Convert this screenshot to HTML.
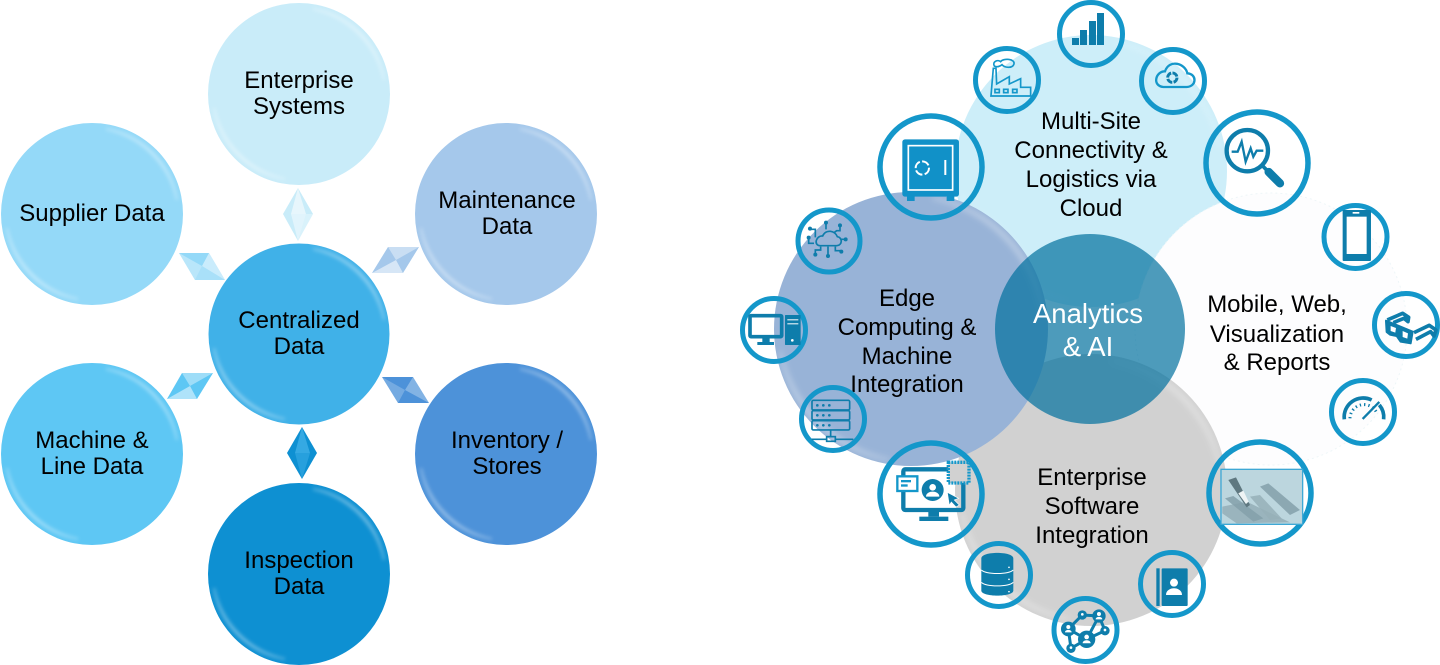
<!DOCTYPE html>
<html><head><meta charset="utf-8"><title>Data diagram</title>
<style>
html,body{margin:0;padding:0;background:#fff;width:1440px;height:665px;overflow:hidden}
svg{display:block}
text{font-family:"Liberation Sans",sans-serif;text-anchor:middle;fill:#000;font-size:24px}
.r{fill:none;stroke:#1497ca;stroke-width:5}
.R{fill:none;stroke:#1497ca;stroke-width:5.5}
.i{fill:#0e7dab}
</style></head><body>
<svg width="1440" height="665" viewBox="0 0 1440 665" xmlns="http://www.w3.org/2000/svg">
<defs>
<filter id="b" x="-30%" y="-30%" width="160%" height="160%"><feGaussianBlur stdDeviation="1.9"/></filter>
<g id="bv" filter="url(#b)">
<path d="M14 -85 A86 86 0 0 1 85 -14 A92 92 0 0 0 14 -85Z" fill="#fff" fill-opacity=".4" stroke="#fff" stroke-opacity=".2" stroke-width="3"/>
<path d="M-14 85 A86 86 0 0 1 -85 14 A92 92 0 0 0 -14 85Z" fill="#fff" fill-opacity=".4" stroke="#fff" stroke-opacity=".2" stroke-width="3"/>
</g>
</defs>

<!-- LEFT -->
<circle cx="299" cy="94" r="91" fill="#c9ecf9"/><use href="#bv" transform="translate(299,94)"/>
<circle cx="92" cy="214" r="91" fill="#94d9f8"/><use href="#bv" transform="translate(92,214)"/>
<circle cx="506" cy="214" r="91" fill="#a5c8eb"/><use href="#bv" transform="translate(506,214)"/>
<circle cx="299" cy="334" r="90.5" fill="#40b1e8"/><use href="#bv" transform="translate(299,334)"/>
<circle cx="92" cy="454" r="91" fill="#5ec7f4"/><use href="#bv" transform="translate(92,454)"/>
<circle cx="506" cy="454" r="91" fill="#4d92d9"/><use href="#bv" transform="translate(506,454)"/>
<circle cx="299" cy="574" r="91" fill="#0e90d2"/><use href="#bv" transform="translate(299,574)"/>

<!-- diamonds -->
<g>
<polygon points="298,188 313,214 298,241 283,214" fill="#c9ecf9"/>
<polygon points="298,188 306,214 291,214" fill="#fff" fill-opacity=".55"/>
<polygon points="298,241 306,214 313,214" fill="#fff" fill-opacity=".3"/>
<polygon points="298,241 291,214 306,214" fill="#fff" fill-opacity=".45"/>

<polygon points="302,427 317,453 302,479 287,453" fill="#0e90d2"/>
<polygon points="302,427 310,453 295,453" fill="#46b3ea" fill-opacity=".7"/>
<polygon points="302,479 295,453 310,453" fill="#46b3ea" fill-opacity=".45"/>

<polygon points="179,253 209,253 225,280 195,280" fill="#94d9f8"/>
<polygon points="179,253 202,266 195,280" fill="#fff" fill-opacity=".35"/>
<polygon points="209,253 225,280 202,266" fill="#fff" fill-opacity=".5"/>
<polygon points="195,280 225,280 202,266" fill="#fff" fill-opacity=".2"/>

<polygon points="388,247 419,247 403,273 372,273" fill="#a5c8eb"/>
<polygon points="388,247 419,247 396,260" fill="#fff" fill-opacity=".4"/>
<polygon points="372,273 403,273 396,260" fill="#fff" fill-opacity=".55"/>

<polygon points="182,373 213,373 197,399 167,399" fill="#5ec7f4"/>
<polygon points="182,373 213,373 190,386" fill="#fff" fill-opacity=".4"/>
<polygon points="167,399 197,399 190,386" fill="#fff" fill-opacity=".5"/>

<polygon points="382,377 413,377 429,403 398,403" fill="#4d92d9"/>
<polygon points="382,377 405,390 398,403" fill="#fff" fill-opacity=".22"/>
<polygon points="413,377 429,403 405,390" fill="#fff" fill-opacity=".3"/>
</g>

<text x="299" y="88">Enterprise</text><text x="299" y="114">Systems</text>
<text x="92" y="221">Supplier Data</text>
<text x="507" y="208">Maintenance</text><text x="507" y="234">Data</text>
<text x="299" y="328">Centralized</text><text x="299" y="354">Data</text>
<text x="92" y="448">Machine &amp;</text><text x="92" y="474">Line Data</text>
<text x="507" y="448">Inventory /</text><text x="507" y="474">Stores</text>
<text x="299" y="568">Inspection</text><text x="299" y="594">Data</text>

<!-- RIGHT circles -->
<circle cx="1091" cy="171" r="136" fill="#cdeef9"/>
<use href="#bv" transform="translate(1091,171) scale(1.52)" opacity=".5"/>
<circle cx="1271" cy="329" r="136" fill="#fdfdfe" stroke="#eef6f8" stroke-width="1" stroke-dasharray="2 3"/>
<circle cx="1091" cy="490" r="136" fill="#d1d1d1"/>
<use href="#bv" transform="translate(1091,490) scale(1.52)" opacity=".9"/>
<circle cx="911" cy="329" r="137" fill="#98b3d7"/>
<use href="#bv" transform="translate(911,329) scale(1.54)" opacity=".9"/>
<circle cx="1090" cy="329" r="95" fill="#01709e" fill-opacity=".7"/>

<text x="1091" y="129">Multi-Site</text><text x="1091" y="158">Connectivity &amp;</text><text x="1091" y="187">Logistics via</text><text x="1091" y="216">Cloud</text>
<text x="907" y="306">Edge</text><text x="907" y="335">Computing &amp;</text><text x="907" y="364">Machine</text><text x="907" y="392">Integration</text>
<text x="1277" y="312">Mobile, Web,</text><text x="1277" y="342">Visualization</text><text x="1277" y="370">&amp; Reports</text>
<text x="1092" y="485">Enterprise</text><text x="1092" y="514">Software</text><text x="1092" y="543">Integration</text>
<text x="1088" y="323" style="font-size:27.5px;fill:#fff">Analytics</text><text x="1088" y="356" style="font-size:27.5px;fill:#fff">&amp; AI</text>

<!-- rings -->
<circle class="r" cx="1091" cy="34" r="31.5"/>
<circle class="r" cx="1007" cy="80" r="31.5"/>
<circle class="r" cx="1173" cy="81" r="31.5"/>
<circle class="R" cx="931" cy="167" r="51"/>
<circle class="R" cx="1257" cy="163" r="51"/>
<circle class="r" cx="1355.5" cy="237" r="31.5"/>
<circle class="r" cx="1406" cy="325" r="31.5"/>
<circle class="r" cx="1363" cy="412" r="31.5"/>
<circle class="R" cx="1260" cy="493" r="51"/>
<circle class="r" cx="1172" cy="584" r="31.5"/>
<circle class="r" cx="1085.5" cy="630" r="31.5"/>
<circle class="r" cx="999" cy="575" r="31.5"/>
<circle class="R" cx="931" cy="494" r="51"/>
<circle class="r" cx="833" cy="419" r="31.5"/>
<circle class="r" cx="774" cy="330" r="31.5"/>
<circle class="r" cx="829" cy="241" r="31"/>

<!-- bars -->
<g class="i"><rect x="1072" y="38" width="7" height="7"/><rect x="1080" y="30" width="7" height="15"/><rect x="1089" y="21" width="7" height="24"/><rect x="1097" y="13" width="7" height="32"/></g>

<!-- factory -->
<g transform="translate(730,0) scale(.3333)" fill="none" stroke="#1497ca" stroke-width="5">
<path d="M783 288 L790 205 L798 205 L800 252 L838 230 V252 L872 236 V262 H902 V288 Z"/>
<rect x="795" y="268" width="13" height="10"/><rect x="821" y="268" width="13" height="10"/><rect x="848" y="268" width="13" height="10"/>
<path d="M793 198 C786 184 804 178 812 185 C820 174 856 176 852 192 C848 206 824 204 816 194 C808 200 800 202 793 198Z"/>
</g>

<!-- cloud sync -->
<g transform="translate(1080,0) scale(.3333)" fill="none" stroke="#1497ca" stroke-width="7">
<path d="M250 261 H320 C350 260 352 222 322 220 C316 190 268 176 255 214 C226 214 216 258 250 261Z"/>
<circle cx="277" cy="233" r="14" stroke="#0e7dab" stroke-width="9" stroke-dasharray="18 4"/>
</g>

<!-- safe -->
<g transform="translate(730,0) scale(.3333)">
<rect x="517" y="418" width="170" height="172" rx="8" fill="#1191c8"/>
<rect x="531" y="588" width="23" height="15" fill="#1191c8"/><rect x="650" y="588" width="23" height="15" fill="#1191c8"/>
<rect x="535" y="437" width="133" height="133" fill="none" stroke="#fff" stroke-width="5"/>
<circle cx="577" cy="504" r="20" fill="none" stroke="#fff" stroke-width="6" stroke-dasharray="24 7"/>
<rect x="643" y="480" width="6" height="45" fill="#fff"/>
</g>

<!-- magnifier -->
<g transform="translate(1080,0) scale(.3333)" fill="none" stroke="#0e7dab">
<circle cx="502" cy="452" r="62" stroke-width="13"/>
<line x1="548" y1="498" x2="565" y2="515" stroke-width="11"/>
<line x1="566" y1="516" x2="600" y2="550" stroke-width="25" stroke-linecap="round"/>
<polyline points="455,455 473,455 485,425 497,485 512,445 520,470 530,452 550,452" stroke-width="7"/>
</g>

<!-- cloud network -->
<g transform="translate(730,200) scale(.3333)" fill="none" stroke="#0e7dab" stroke-width="5">
<path d="M270 137 H320 C338 136 338 112 322 110 C316 92 288 86 278 108 C258 106 250 136 270 137Z"/>
<path d="M288 88 V70 M256 112 V88 H240 M312 98 L320 92 H330 V78 M334 118 H346 M236 115 V130 H252 M294 140 V165 M272 140 V150 H256 V162 M316 140 V152 H334"/>
<g fill="#0e7dab" stroke="none"><circle cx="288" cy="68" r="6"/><circle cx="240" cy="86" r="6"/><circle cx="330" cy="76" r="6"/><circle cx="347" cy="118" r="6"/><circle cx="236" cy="113" r="6"/><circle cx="294" cy="168" r="6"/><circle cx="256" cy="164" r="6"/><circle cx="334" cy="155" r="6"/></g>
</g>

<!-- PC -->
<g transform="translate(730,200) scale(.3333)">
<rect x="60" y="347" width="95" height="63" rx="3" fill="none" stroke="#0e7dab" stroke-width="11"/>
<rect x="97" y="412" width="22" height="14" class="i"/><rect x="82" y="426" width="50" height="9" class="i"/>
<rect x="165" y="345" width="47" height="90" rx="2" class="i"/>
<rect x="172" y="358" width="33" height="3" fill="#fff"/><rect x="172" y="370" width="33" height="3" fill="#fff"/>
<circle cx="187" cy="421" r="4" fill="#fff"/>
</g>

<!-- server -->
<g transform="translate(730,200) scale(.3333)" fill="none" stroke="#0e7dab" stroke-width="5">
<rect x="246" y="601" width="113" height="29" rx="4"/><rect x="246" y="632" width="113" height="28" rx="4"/><rect x="246" y="662" width="113" height="28" rx="4"/>
<g fill="#0e7dab" stroke="none"><circle cx="262" cy="616" r="4"/><circle cx="280" cy="616" r="4"/><circle cx="298" cy="616" r="4"/><circle cx="262" cy="646" r="4"/><circle cx="280" cy="646" r="4"/><circle cx="298" cy="646" r="4"/><circle cx="262" cy="676" r="4"/><circle cx="280" cy="676" r="4"/><circle cx="298" cy="676" r="4"/></g>
<path d="M302 690 V710 M245 718 H290 M316 718 H370"/><rect x="290" y="710" width="26" height="14"/>
</g>

<!-- phone -->
<g transform="translate(1180,190) scale(.3333)">
<rect x="488" y="60" width="85" height="153" rx="3" class="i"/>
<rect x="500" y="80" width="60" height="112" fill="#fff"/>
<rect x="518" y="66" width="20" height="5" fill="#fff"/>
</g>

<!-- 3D glasses -->
<g transform="translate(1180,190) scale(.3333)" stroke="#0e7dab" stroke-linejoin="round">
<path d="M618 392 L698 425 L692 460 L662 455 L650 438 L630 434 L620 426Z" fill="#0e7dab" stroke-width="6"/>
<path d="M632 408 L648 414 L646 428 L632 423Z M668 423 L684 430 L682 446 L668 441Z" fill="#fff" stroke="none"/>
<path d="M622 390 L668 370 L686 382 L684 395 L672 385 L640 398" fill="none" stroke-width="11"/>
<path d="M702 428 L748 406 L768 420 L762 438 L752 425 L708 448" fill="none" stroke-width="11"/>
</g>

<!-- gauge -->
<g transform="translate(1180,190) scale(.3333)" fill="none" stroke="#0e7dab">
<path d="M493 688 A57 57 0 0 1 575 630" stroke-width="11"/>
<path d="M598 645 A57 57 0 0 1 611 688" stroke-width="11"/>
<path d="M510 685 A42 42 0 0 1 590 668" stroke-width="9" stroke-dasharray="4 9"/>
<line x1="548" y1="687" x2="598" y2="636" stroke-width="7"/>
</g>

<!-- photo -->
<g transform="translate(1090,430) scale(.3333)">
<rect x="393" y="118" width="245" height="165" fill="#bcd6de" stroke="#3ea8d5" stroke-width="4"/>
<polygon points="397,230 470,215 600,277 440,280 397,250" fill="#94aeb7" opacity=".85"/>
<polygon points="510,170 535,160 630,240 600,255" fill="#84a0aa" opacity=".85"/>
<polygon points="405,205 430,198 520,265 490,275" fill="#84a0aa" opacity=".85"/>
<polygon points="480,200 510,195 575,265 540,270" fill="#96b0b9" opacity=".85"/>
<polygon points="415,150 438,142 480,225 470,232" fill="#5f7880"/>
<polygon points="445,190 460,182 476,215 468,222" fill="#eef4f5"/>
</g>

<!-- address book -->
<g transform="translate(1090,430) scale(.3333)">
<rect x="199" y="415" width="10" height="113" class="i"/>
<rect x="215" y="415" width="78" height="113" rx="3" class="i"/>
<circle cx="252" cy="458" r="12" fill="#fff"/>
<path d="M228 495 C228 468 276 468 276 495Z" fill="#fff"/>
</g>

<!-- network -->
<g transform="translate(860,430) scale(.3333)">
<path d="M625 597 L667 555 L717 558 L735 602 L680 628 L625 597 L633 655 L680 628 M717 558 L680 628" fill="none" stroke="#0e7dab" stroke-width="9"/>
<g class="i"><circle cx="625" cy="597" r="22"/><circle cx="717" cy="558" r="20"/><circle cx="680" cy="628" r="26"/><circle cx="735" cy="602" r="14"/><circle cx="667" cy="555" r="14"/><circle cx="633" cy="655" r="14"/></g>
<g fill="#fff"><circle cx="625" cy="591" r="6"/><path d="M615 607 C615 597 635 597 635 607Z"/><circle cx="717" cy="552" r="6"/><path d="M707 568 C707 558 727 558 727 568Z"/><circle cx="680" cy="621" r="7"/><path d="M668 640 C668 628 692 628 692 640Z"/><circle cx="735" cy="600" r="4"/><circle cx="667" cy="553" r="4"/><circle cx="633" cy="653" r="4"/></g>
</g>

<!-- database -->
<g transform="translate(860,430) scale(.3333)">
<path d="M364 385 C364 363 460 363 460 385 V482 C460 502 364 502 364 482Z" class="i"/>
<path d="M364 420 C380 434 444 434 460 420 M364 457 C380 471 444 471 460 457" fill="none" stroke="#fff" stroke-width="3"/>
<circle cx="447" cy="412" r="2.5" fill="#fff"/><circle cx="447" cy="448" r="2.5" fill="#fff"/><circle cx="447" cy="485" r="2.5" fill="#fff"/>
</g>

<!-- screen -->
<g transform="translate(860,430) scale(.3333)">
<rect x="130" y="118" width="180" height="122" rx="6" fill="none" stroke="#0e7dab" stroke-width="13"/>
<rect x="112" y="139" width="60" height="44" fill="#fff" stroke="#1497ca" stroke-width="7"/>
<rect x="123" y="150" width="30" height="7" fill="#1497ca"/><rect x="123" y="163" width="20" height="7" fill="#1497ca"/>
<rect x="265" y="97" width="62" height="62" fill="#d1d1d1" stroke="#1497ca" stroke-width="10" stroke-dasharray="6 3"/>
<circle cx="218" cy="180" r="33" class="i"/>
<circle cx="218" cy="172" r="10" fill="#fff"/><path d="M198 200 C198 180 238 180 238 200Z" fill="#fff"/>
<polygon points="262,187 296,205 283,210 298,225 288,231 274,216 268,226" class="i" stroke="#fff" stroke-width="2"/>
<rect x="205" y="240" width="32" height="20" class="i"/><rect x="178" y="260" width="87" height="13" class="i"/>
</g>
</svg>
</body></html>
